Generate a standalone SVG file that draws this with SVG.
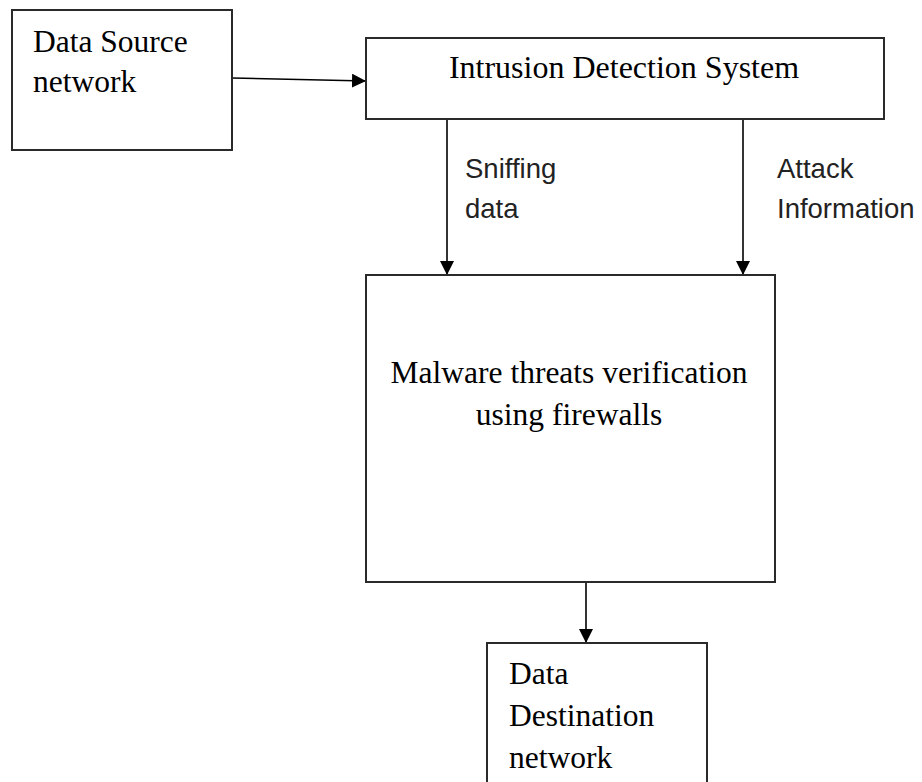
<svg xmlns="http://www.w3.org/2000/svg" width="922" height="782" viewBox="0 0 922 782">
  <style>
    .box { fill: #ffffff; stroke: #2a2a2a; stroke-width: 2; }
    .serif { font-family: "Liberation Serif", "Times New Roman", serif; font-size: 31.5px; fill: #000000; }
    .big { font-size: 32px; }
    .sans { font-family: "Liberation Sans", Arial, sans-serif; font-size: 27.5px; fill: #222222; }
    .conn { stroke: #000000; stroke-width: 1.6; fill: none; }
  </style>
  <defs>
    <marker id="arrow" markerWidth="16" markerHeight="14" refX="14" refY="7" orient="auto" markerUnits="userSpaceOnUse">
      <path d="M0,0 L14,7 L0,14 Z" fill="#000000"/>
    </marker>
  </defs>
  <rect width="922" height="782" fill="#ffffff"/>

  <g id="connectors">
    <line class="conn" x1="232" y1="78" x2="366" y2="81" marker-end="url(#arrow)"/>
    <line class="conn" x1="447" y1="120" x2="447" y2="275" marker-end="url(#arrow)"/>
    <line class="conn" x1="743" y1="120" x2="743" y2="275" marker-end="url(#arrow)"/>
    <line class="conn" x1="586" y1="582" x2="586" y2="643" marker-end="url(#arrow)"/>
    <text class="sans" x="465" y="178">Sniffing</text>
    <text class="sans" x="465" y="218">data</text>
    <text class="sans" x="777" y="178">Attack</text>
    <text class="sans" x="777" y="218">Information</text>
  </g>

  <g id="data-source">
    <rect class="box" x="12" y="10" width="220" height="140"/>
    <text class="serif" x="33" y="52">Data Source</text>
    <text class="serif" x="33" y="92">network</text>
  </g>

  <g id="ids">
    <rect class="box" x="366" y="38" width="518" height="81"/>
    <text class="serif big" x="624" y="78" text-anchor="middle">Intrusion Detection System</text>
  </g>

  <g id="malware">
    <rect class="box" x="366" y="275" width="409" height="307"/>
    <text class="serif" x="569" y="383" text-anchor="middle">Malware threats verification</text>
    <text class="serif" x="569" y="425" text-anchor="middle">using firewalls</text>
  </g>

  <g id="data-destination">
    <rect class="box" x="487" y="643" width="220" height="160"/>
    <text class="serif" x="509" y="684">Data</text>
    <text class="serif" x="509" y="726">Destination</text>
    <text class="serif" x="509" y="768">network</text>
  </g>
</svg>
